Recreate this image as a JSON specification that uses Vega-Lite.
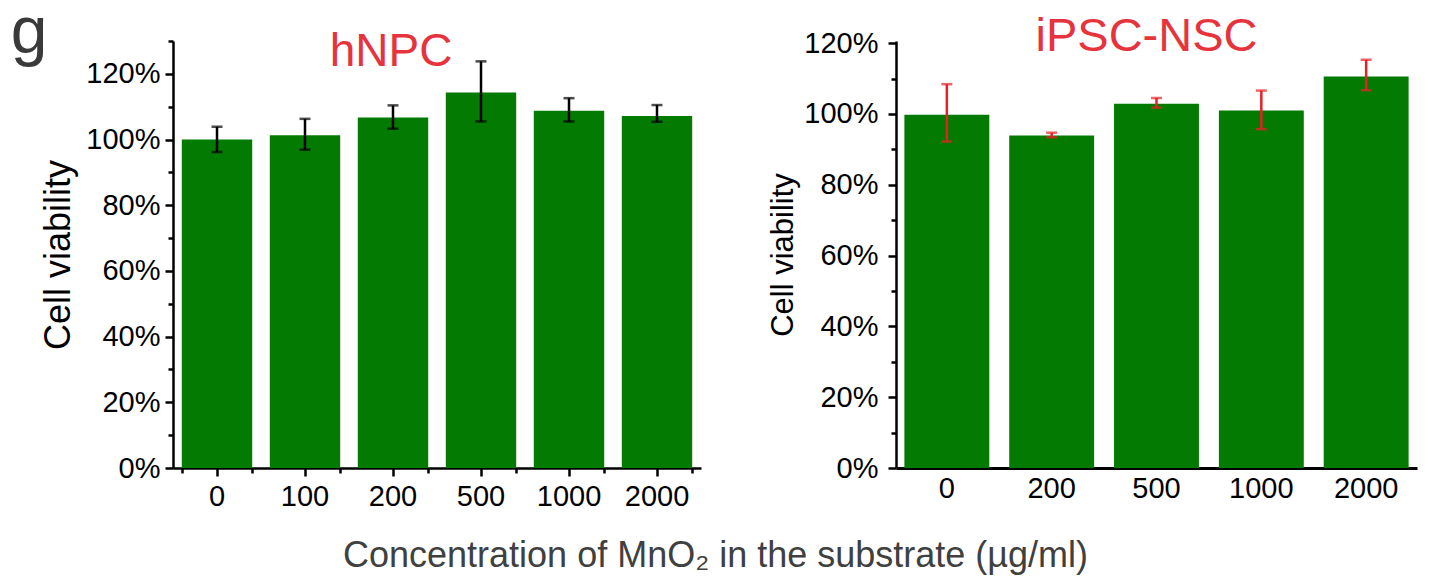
{
  "$schema": "https://vega.github.io/schema/vega-lite/v6.json",
  "background": "white",
  "padding": {"left": 10, "top": 0, "right": 10, "bottom": 5},
  "title": {"text": "g", "anchor": "start", "frame": "bounds", "fontSize": 66, "fontWeight": "normal", "color": "#3a3a3a", "font": "Liberation Sans", "offset": -54, "dx": -30},
  "config": {
    "font": "Liberation Sans",
    "view": {"stroke": null},
    "axis": {"labelFont": "Liberation Sans", "titleFont": "Liberation Sans", "labelColor": "black", "titleColor": "black", "domainColor": "black", "tickColor": "black", "grid": false, "titleFontWeight": "normal"},
    "title": {"font": "Liberation Sans", "fontWeight": "normal"}
  },
  "datasets": {
    "hnpc": [
      {"dose": "0", "mean": 100.0, "lo": 96.2, "hi": 103.9},
      {"dose": "100", "mean": 101.3, "lo": 96.9, "hi": 106.3},
      {"dose": "200", "mean": 106.7, "lo": 103.3, "hi": 110.4},
      {"dose": "500", "mean": 114.3, "lo": 105.5, "hi": 123.8},
      {"dose": "1000", "mean": 108.8, "lo": 105.5, "hi": 112.6},
      {"dose": "2000", "mean": 107.2, "lo": 105.4, "hi": 110.5}
    ],
    "ipsc": [
      {"dose": "0", "mean": 99.8, "lo": 92.2, "hi": 108.4},
      {"dose": "200", "mean": 93.9, "lo": 93.4, "hi": 94.7},
      {"dose": "500", "mean": 102.9, "lo": 101.8, "hi": 104.5},
      {"dose": "1000", "mean": 101.0, "lo": 95.7, "hi": 106.6},
      {"dose": "2000", "mean": 110.6, "lo": 106.7, "hi": 115.3}
    ]
  },
  "bounds": "flush",
  "spacing": 195,
  "hconcat": [
    {
      "width": 528,
      "height": 427,
      "title": {"text": "hNPC", "color": "#e6333c", "fontSize": 46, "offset": -36, "dx": -46},
      "data": {"name": "hnpc"},
      "layer": [
        {
          "mark": {"type": "bar", "color": "#037b03"},
          "encoding": {
            "x": {"field": "dose", "type": "nominal", "sort": ["0", "100", "200", "500", "1000", "2000"],
              "scale": {"paddingInner": 0.2, "paddingOuter": 0.1},
              "axis": {"orient": "bottom", "title": "Concentration of MnO₂ in the substrate (µg/ml)", "titleX": 542, "titleY": 70, "titleBaseline": "top", "titleAlign": "center", "titleFontSize": 36, "titleColor": "#404040",
                "labelAngle": 0, "labelFontSize": 29, "labelPadding": 6, "tickSize": 8, "tickWidth": 2.5, "domainWidth": 2.5}},
            "y": {"field": "mean", "type": "quantitative", "scale": {"domain": [0, 130], "nice": false},
              "axis": {"orient": "left", "values": [0, 20, 40, 60, 80, 100, 120], "labelExpr": "datum.value + '%'", "title": "Cell viability", "titleFontSize": 36, "titlePadding": 8,
                "labelFontSize": 29, "labelPadding": 5, "tickSize": 8, "tickWidth": 2.5, "domainWidth": 2.5}}
          }
        },
        {
          "mark": {"type": "rule", "color": "black", "strokeWidth": 2.5},
          "encoding": {
            "x": {"field": "dose", "type": "nominal", "sort": ["0", "100", "200", "500", "1000", "2000"],
              "axis": {"orient": "bottom", "tickBand": "extent", "labels": false, "domain": false, "title": null, "tickSize": 5, "tickWidth": 2.5}},
            "y": {"field": "lo", "type": "quantitative",
              "axis": {"orient": "left", "values": [10, 30, 50, 70, 90, 110, 130], "labels": false, "domain": false, "title": null, "tickSize": 5, "tickWidth": 2.5}},
            "y2": {"field": "hi"}
          }
        },
        {
          "mark": {"type": "tick", "color": "black", "thickness": 2.5, "size": 11},
          "encoding": {
            "x": {"field": "dose", "type": "nominal", "sort": ["0", "100", "200", "500", "1000", "2000"], "axis": null},
            "y": {"field": "lo", "type": "quantitative", "axis": null}
          }
        },
        {
          "mark": {"type": "tick", "color": "black", "thickness": 2.5, "size": 11},
          "encoding": {
            "x": {"field": "dose", "type": "nominal", "sort": ["0", "100", "200", "500", "1000", "2000"], "axis": null},
            "y": {"field": "hi", "type": "quantitative", "axis": null}
          }
        }
      ],
      "resolve": {"axis": {"x": "independent", "y": "independent"}}
    },
    {
      "width": 521,
      "height": 427,
      "title": {"text": "iPSC-NSC", "color": "#e6333c", "fontSize": 47, "offset": -32, "dx": -10},
      "data": {"name": "ipsc"},
      "layer": [
        {
          "mark": {"type": "bar", "color": "#037b03"},
          "encoding": {
            "x": {"field": "dose", "type": "nominal", "sort": ["0", "200", "500", "1000", "2000"],
              "scale": {"paddingInner": 0.19, "paddingOuter": 0.08},
              "axis": {"orient": "bottom", "title": null, "labelAngle": 0, "labelFontSize": 29, "labelPadding": 6, "ticks": false, "domainWidth": 3}},
            "y": {"field": "mean", "type": "quantitative", "scale": {"domain": [0, 120.6], "nice": false},
              "axis": {"orient": "left", "values": [0, 20, 40, 60, 80, 100, 120], "labelExpr": "datum.value + '%'", "title": "Cell viability", "titleFontSize": 31, "titlePadding": 4,
                "labelFontSize": 29, "labelPadding": 10, "tickSize": 8, "tickWidth": 2.5, "domainWidth": 2.5}}
          }
        },
        {
          "mark": {"type": "rule", "color": "#e81f25", "strokeWidth": 2.5},
          "encoding": {
            "x": {"field": "dose", "type": "nominal", "sort": ["0", "200", "500", "1000", "2000"], "axis": null},
            "y": {"field": "lo", "type": "quantitative",
              "axis": {"orient": "left", "values": [10, 30, 50, 70, 90, 110], "labels": false, "domain": false, "title": null, "tickSize": 5, "tickWidth": 2.5}},
            "y2": {"field": "hi"}
          }
        },
        {
          "mark": {"type": "tick", "color": "#e81f25", "thickness": 2.5, "size": 11},
          "encoding": {
            "x": {"field": "dose", "type": "nominal", "sort": ["0", "200", "500", "1000", "2000"], "axis": null},
            "y": {"field": "lo", "type": "quantitative", "axis": null}
          }
        },
        {
          "mark": {"type": "tick", "color": "#e81f25", "thickness": 2.5, "size": 11},
          "encoding": {
            "x": {"field": "dose", "type": "nominal", "sort": ["0", "200", "500", "1000", "2000"], "axis": null},
            "y": {"field": "hi", "type": "quantitative", "axis": null}
          }
        }
      ],
      "resolve": {"axis": {"x": "independent", "y": "independent"}}
    }
  ]
}
